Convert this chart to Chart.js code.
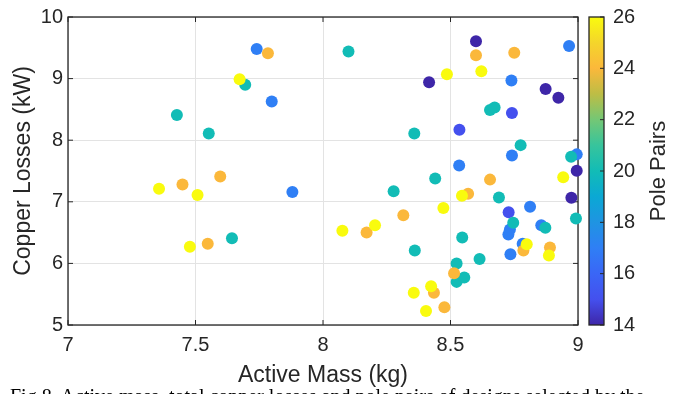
<!DOCTYPE html>
<html>
<head>
<meta charset="utf-8">
<script src="https://cdn.jsdelivr.net/npm/chart.js@4.4.1/dist/chart.umd.min.js"></script>
<style>
    html, body { margin: 0; padding: 0; background: #fff; overflow: hidden; }
    #wrap { position: relative; width: 684px; height: 394px; overflow: hidden; }
    #legenda { position: absolute; left: 10px; top: 385px; font: 20px "Liberation Serif", serif; white-space: nowrap; color: #000; }
</style>
</head>
<body>
<div id="wrap">
    <canvas id="grafico" width="684" height="394"></canvas>
    <div id="legenda">Fig.8. Active mass, total copper losses and pole pairs of designs selected by the</div>
</div>
<script>
// dados
const activeMass = [
    7.427, 7.552, 7.695, 7.673, 7.740, 7.784, 7.799, 8.100, 7.357, 7.449,
    7.508, 7.597, 7.478, 7.548, 7.643, 7.880, 8.277, 8.076, 8.171, 8.204,
    8.315, 8.440, 8.655, 8.569, 8.545, 8.690, 8.472, 8.995, 8.942, 8.974,
    8.992, 8.728, 8.812, 8.733, 8.727, 8.746, 8.856, 8.872, 8.783, 8.786,
    8.799, 8.890, 8.886, 8.735, 8.546, 8.360, 8.614, 8.524, 8.524, 8.554,
    8.514, 8.435, 8.424, 8.356, 8.404, 8.476, 8.534, 8.600, 8.600, 8.750,
    8.965, 8.486, 8.621, 8.416, 8.739, 8.873, 8.923, 8.655, 8.673, 8.741,
    8.358, 8.535, 8.775, 8.741, 8.995, 8.973
];
const copperLosses = [
    8.41, 8.11, 8.90, 8.99, 9.48, 9.41, 8.63, 9.44, 7.21, 7.28,
    7.11, 7.41, 6.27, 6.32, 6.41, 7.16, 7.17, 6.53, 6.50, 6.62,
    6.78, 7.38, 7.36, 7.13, 7.10, 7.07, 6.90, 7.505, 7.40, 7.065,
    6.73, 6.83, 6.92, 6.55, 6.47, 6.66, 6.62, 6.58, 6.32, 6.21,
    6.31, 6.26, 6.13, 6.15, 6.42, 6.21, 6.07, 6.00, 5.70, 5.77,
    5.84, 5.525, 5.63, 5.525, 5.226, 5.29, 7.59, 9.607, 9.38, 9.42,
    9.53, 9.07, 9.12, 8.94, 8.97, 8.83, 8.69, 8.49, 8.53, 8.44,
    8.11, 8.17, 7.92, 7.75, 7.77, 7.73
];
const polePairs = [
    20, 20, 20, 26, 17, 24, 17, 20, 26, 24,
    26, 24, 26, 24, 20, 17, 20, 26, 24, 26,
    24, 20, 24, 24, 26, 20, 26, 14, 26, 14,
    20, 15, 17, 17, 17, 20, 17, 20, 17, 24,
    26, 24, 26, 17, 20, 20, 20, 20, 20, 20,
    24, 24, 26, 26, 26, 24, 17, 14, 24, 24,
    17, 26, 26, 14, 17, 14, 14, 20, 20, 15,
    20, 15, 20, 17, 17, 20
];
const xTicks = [7, 7.5, 8, 8.5, 9];
const yTicks = [5, 6, 7, 8, 9, 10];
const barraTicks = [14, 16, 18, 20, 22, 24, 26];
const barraMin = 14;
const barraMax = 26;

// mapa de cores tipo parula
const mapa = [
    [14, '#3e26a8'], [15, '#4450ee'], [16, '#3a66f6'], [17, '#2f7ff5'],
    [18, '#1f94e2'], [19, '#0ba8d4'], [20, '#12bcb6'], [21, '#37c49c'],
    [22, '#74c775'], [23, '#bdbd45'], [24, '#fbb83b'], [25, '#f4d52b'],
    [26, '#f9fb0e']
];

function hexRgb(h) {
    return [parseInt(h.substr(1, 2), 16), parseInt(h.substr(3, 2), 16), parseInt(h.substr(5, 2), 16)];
}

function corDe(v) {
    for (let i = 0; i < mapa.length - 1; i++) {
        const [v0, c0] = mapa[i];
        const [v1, c1] = mapa[i + 1];
        if (v <= v1) {
            const t = Math.max(0, (v - v0) / (v1 - v0));
            const a = hexRgb(c0), b = hexRgb(c1);
            const c = a.map((x, k) => Math.round(x + (b[k] - x) * t));
            return `rgb(${c[0]}, ${c[1]}, ${c[2]})`;
        }
    }
    return mapa[mapa.length - 1][1];
}

const corEixo = '#262626';
const fonte = '"Liberation Sans", Arial, sans-serif';

// caixa dos eixos com marcas para dentro
const moldura = {
    id: 'moldura',
    beforeDatasetsDraw(chart) {
        const { ctx, chartArea: a, scales } = chart;
        ctx.save();
        ctx.strokeStyle = corEixo;
        ctx.lineWidth = 1.3;
        ctx.strokeRect(a.left, a.top, a.right - a.left, a.bottom - a.top);
        ctx.lineWidth = 1;
        ctx.beginPath();
        xTicks.forEach(v => {
            const x = scales.x.getPixelForValue(v);
            ctx.moveTo(x, a.bottom); ctx.lineTo(x, a.bottom - 5);
            ctx.moveTo(x, a.top); ctx.lineTo(x, a.top + 5);
        });
        yTicks.forEach(v => {
            const y = scales.y.getPixelForValue(v);
            ctx.moveTo(a.left, y); ctx.lineTo(a.left + 5, y);
            ctx.moveTo(a.right, y); ctx.lineTo(a.right - 5, y);
        });
        ctx.stroke();
        ctx.restore();
    }
};

// barra de cores à direita
const barraCores = {
    id: 'barraCores',
    afterDraw(chart) {
        const { ctx, chartArea: a } = chart;
        const x0 = a.right + 11;
        const w = 15;
        const top = a.top, bottom = a.bottom;
        const grad = ctx.createLinearGradient(0, bottom, 0, top);
        mapa.forEach(([v, c]) => grad.addColorStop((v - barraMin) / (barraMax - barraMin), c));
        ctx.save();
        ctx.fillStyle = grad;
        ctx.fillRect(x0, top, w, bottom - top);
        ctx.strokeStyle = corEixo;
        ctx.lineWidth = 1.3;
        ctx.strokeRect(x0, top, w, bottom - top);
        ctx.lineWidth = 1;
        ctx.fillStyle = corEixo;
        ctx.font = '20px ' + fonte;
        ctx.textAlign = 'left';
        ctx.textBaseline = 'middle';
        barraTicks.forEach(v => {
            const y = bottom - (v - barraMin) / (barraMax - barraMin) * (bottom - top);
            ctx.beginPath();
            ctx.moveTo(x0 + w - 4, y); ctx.lineTo(x0 + w, y);
            ctx.stroke();
            ctx.fillText(String(v), x0 + w + 9, y);
        });
        ctx.translate(659, (top + bottom) / 2);
        ctx.rotate(-Math.PI / 2);
        ctx.textAlign = 'center';
        ctx.font = '22px ' + fonte;
        ctx.fillText('Pole Pairs', 0, 0);
        ctx.restore();
    }
};

const pontos = activeMass.map((m, i) => ({ x: m, y: copperLosses[i] }));

const ctx = document.getElementById('grafico').getContext('2d');
window.myChart = new Chart(ctx, {
    type: 'scatter',
    data: {
        datasets: [{
            label: 'Designs',
            data: pontos,
            backgroundColor: polePairs.map(corDe),
            borderWidth: 0,
            pointRadius: 6,
            pointHoverRadius: 6,
            clip: false
        }]
    },
    options: {
        responsive: false,
        animation: false,
        events: [],
        layout: { padding: { top: 15, right: 106, left: 0, bottom: 0 } },
        plugins: {
            legend: { display: false },
            tooltip: { enabled: false }
        },
        scales: {
            x: {
                type: 'linear',
                min: 7,
                max: 9,
                afterBuildTicks: s => { s.ticks = xTicks.map(v => ({ value: v })); },
                afterFit: s => { s.height = 69; },
                ticks: {
                    font: { size: 20, family: fonte },
                    color: corEixo,
                    padding: 8,
                    callback: v => String(v)
                },
                grid: { color: '#e3e3e3', drawTicks: false },
                border: { display: false },
                title: {
                    display: true,
                    text: 'Active Mass (kg)',
                    font: { size: 23, family: fonte },
                    color: corEixo,
                    padding: { top: 0, bottom: 5 }
                }
            },
            y: {
                type: 'linear',
                min: 5,
                max: 10,
                afterBuildTicks: s => { s.ticks = yTicks.map(v => ({ value: v })); },
                afterFit: s => { s.width = 68; },
                ticks: {
                    font: { size: 20, family: fonte },
                    color: corEixo,
                    padding: 5,
                    callback: v => String(v)
                },
                grid: { color: '#e3e3e3', drawTicks: false },
                border: { display: false },
                title: {
                    display: true,
                    text: 'Copper Losses (kW)',
                    font: { size: 23, family: fonte },
                    color: corEixo,
                    padding: { top: 10, bottom: 0 }
                }
            }
        }
    },
    plugins: [moldura, barraCores]
});
</script>
</body>
</html>
